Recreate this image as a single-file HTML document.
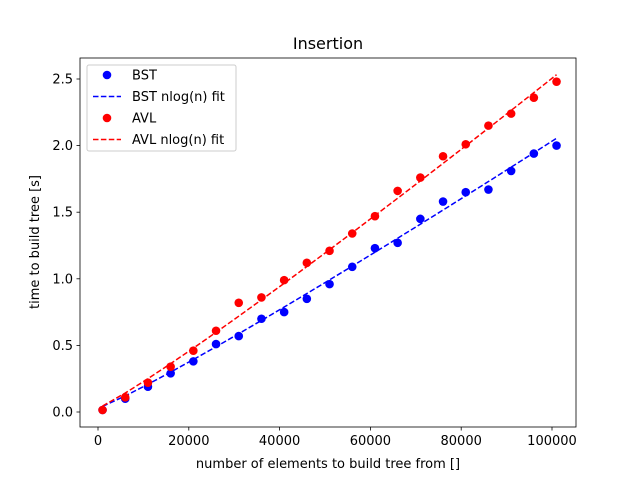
<!DOCTYPE html>
<html><head><meta charset="utf-8"><style>body{margin:0;background:#fff}svg{font-family:"DejaVu Sans","Liberation Sans",sans-serif}</style></head>
<body>
<svg id="c" width="640" height="480" viewBox="0 0 640 480"></svg>
<script>
const xs=[1000,6000,11000,16000,21000,26000,31000,36000,41000,46000,51000,56000,61000,66000,71000,76000,81000,86000,91000,96000,101000];
const bstVals=[0.015,0.10,0.19,0.29,0.38,0.51,0.57,0.70,0.75,0.85,0.96,1.09,1.23,1.27,1.45,1.58,1.65,1.67,1.81,1.94,2.00];
const avlVals=[0.015,0.11,0.22,0.34,0.46,0.61,0.82,0.86,0.99,1.12,1.21,1.34,1.47,1.66,1.76,1.92,2.01,2.15,2.24,2.36,2.48];
const xTicks=[0,20000,40000,60000,80000,100000];
const yTicks=[0.0,0.5,1.0,1.5,2.0,2.5];
const bstFit=[1.74e-6,0.03];
const avlFit=[2.15e-6,0.03];
const NS="http://www.w3.org/2000/svg",svg=document.getElementById('c');
const L=80,R=576,T=58,B=427;
const X=v=>98+v*454/100000, Y=v=>412-v*133.2;
function el(t,a,p){const e=document.createElementNS(NS,t);for(const k in a)e.setAttribute(k,a[k]);(p||svg).appendChild(e);return e;}
let e;
e=el('rect',{x:L,y:T,width:R-L,height:B-T,fill:'none',stroke:'#000','stroke-width':0.8});

xTicks.forEach(v=>{const x=X(v);el('line',{x1:x,x2:x,y1:B,y2:B+3.5,stroke:'#000','stroke-width':0.8});
 e=el('text',{x:x,y:B+18,'font-size':13,'text-anchor':'middle'});e.textContent=v;
 });
yTicks.forEach(v=>{const y=Y(v);el('line',{x1:L-3.5,x2:L,y1:y,y2:y,stroke:'#000','stroke-width':0.8});
 e=el('text',{x:L-7,y:y+4.5,'font-size':13,'text-anchor':'end'});e.textContent=v.toFixed(1);
 });
e=el('text',{x:328,y:49,'font-size':16,'text-anchor':'middle'});e.textContent='Insertion';

e=el('text',{x:328,y:468,'font-size':13,'text-anchor':'middle'});e.textContent='number of elements to build tree from []';

e=el('text',{x:0,y:0,'font-size':13,'text-anchor':'middle',transform:'translate(39,242) rotate(-90)'});e.textContent='time to build tree [s]';

function series(vals,fit,col,nm){
 const pts=xs.map(n=>X(n)+','+Y(fit[0]*n*Math.log(n)+fit[1])).join(' ');
 e=el('polyline',{points:pts,fill:'none',stroke:col,'stroke-width':1.5,'stroke-dasharray':'5.5,2.4'});
 
 vals.forEach((v,i)=>{e=el('circle',{cx:X(xs[i]),cy:Y(v),r:4.3,fill:col});
  });
}
series(bstVals,bstFit,'#0000ff','bst');
series(avlVals,avlFit,'#ff0000','avl');
const lg=el('g',{});
el('rect',{x:87,y:65,width:149,height:86,rx:2,fill:'#fff','fill-opacity':0.8,stroke:'#ccc'},lg);
[['BST','#0000ff',0],['BST nlog(n) fit','#0000ff',1],['AVL','#ff0000',0],['AVL nlog(n) fit','#ff0000',1]].forEach((d,i)=>{
 const y=75+i*21.5;
 if(d[2])el('line',{x1:93,x2:121,y1:y,y2:y,stroke:d[1],'stroke-width':1.5,'stroke-dasharray':'5.5,2.4'},lg);
 else el('circle',{cx:107,cy:y,r:4.3,fill:d[1]},lg);
 e=el('text',{x:132,y:y+4.5,'font-size':13},lg);e.textContent=d[0];
 
});
</script>
</body></html>
